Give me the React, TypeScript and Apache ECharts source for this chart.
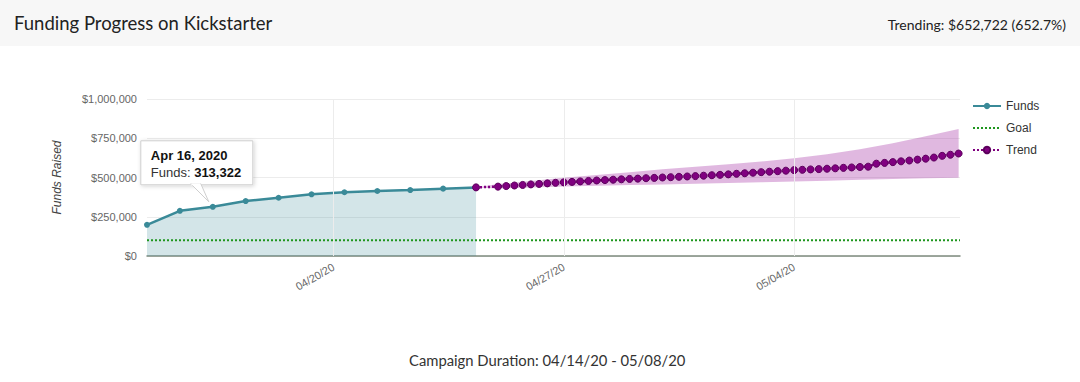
import React, { useEffect, useRef } from 'react';
import * as echarts from 'echarts';

// ---------------- data ----------------
const fundsDates = [
  '2020-04-14 08:00', '2020-04-15 08:00', '2020-04-16 08:00', '2020-04-17 08:00',
  '2020-04-18 08:00', '2020-04-19 08:00', '2020-04-20 08:00', '2020-04-21 08:00',
  '2020-04-22 08:00', '2020-04-23 08:00', '2020-04-24 08:00',
];
const fundsValues = [198500, 288000, 313322, 350000, 371000, 393000, 406000, 414000, 420000, 429000, 437000];

const goalValue = 100000;

// trend: one estimate every 6 hours starting 04/25 00:00
const trendStart = '2020-04-25 00:00';
const trendStepHours = 6;
const trendValues = [
  442000, 445500, 449000, 452500,
  456000, 459000, 462500, 466000,
  469000, 472000, 475000, 478000,
  481000, 483500, 486000, 488500,
  491000, 493000, 495500, 497500,
  500000, 502000, 504500, 506500,
  509000, 511500, 514500, 517000,
  520000, 523500, 527000, 530500,
  534000, 537000, 540500, 543500,
  547000, 549000, 551500, 553500,
  556000, 558500, 561500, 564000,
  567000, 569000, 588000, 593000,
  598000, 603000, 608000, 614000,
  620000, 627000, 638000, 645000,
  652722,
];

const bandDates = [
  '2020-04-24 08:00', '2020-04-25 00:00', '2020-04-26 00:00', '2020-04-27 00:00',
  '2020-04-28 00:00', '2020-04-29 00:00', '2020-04-30 00:00', '2020-05-01 00:00',
  '2020-05-02 00:00', '2020-05-03 00:00', '2020-05-04 00:00', '2020-05-05 00:00',
  '2020-05-06 00:00', '2020-05-07 00:00', '2020-05-08 00:00', '2020-05-09 00:00',
];
const bandUpper = [437000, 458000, 478000, 498000, 516000, 534000, 552000, 568000, 584000, 602000, 622000, 648000, 680000, 718000, 762000, 809000];
const bandLower = [437000, 430000, 436000, 442000, 447000, 452000, 456000, 460000, 465000, 470000, 474000, 479000, 485000, 490000, 495000, 499000];

const axisBase = '2020-04-13 00:00';
const axisStart = '2020-04-14 08:00';
const axisEnd = '2020-05-09 01:00';
const xTickDates = ['2020-04-20 00:00', '2020-04-27 00:00', '2020-05-04 00:00'];
const yTicks = [0, 250000, 500000, 750000, 1000000];

const titleText = 'Funding Progress on Kickstarter';
const trendingText = 'Trending: $652,722 (652.7%)';
const durationText = 'Campaign Duration: 04/14/20 - 05/08/20';
const tooltipIndex = 2;

// ---------------- helpers ----------------
const parse = (s: string) => new Date(s.replace(' ', 'T') + ':00').getTime();
const baseMs = parse(axisBase);
const toH = (s: string) => (parse(s) - baseMs) / 3600000;
const pad = (n: number) => (n < 10 ? '0' + n : '' + n);
const fmtShort = (h: number) => {
  const d = new Date(baseMs + h * 3600000);
  return `${pad(d.getMonth() + 1)}/${pad(d.getDate())}/${pad(d.getFullYear() % 100)}`;
};
const MONTHS = ['Jan', 'Feb', 'Mar', 'Apr', 'May', 'Jun', 'Jul', 'Aug', 'Sep', 'Oct', 'Nov', 'Dec'];
const fmtLong = (s: string) => {
  const d = new Date(parse(s));
  return `${MONTHS[d.getMonth()]} ${d.getDate()}, ${d.getFullYear()}`;
};
const fmtMoney = (v: number) => '$' + v.toLocaleString('en-US');

const SANS = '"Liberation Sans", Arial, sans-serif';
const HEAD = 'Lato, "Noto Sans", sans-serif';
const BAND_FILL = 'rgba(160, 40, 160, 0.33)';
const GRID_COLOR = '#ececec';

export default function App() {
  const ref = useRef<HTMLDivElement>(null);
  useEffect(() => {
    document.body.style.margin = '0';
    if (!ref.current) return;
    const chart = echarts.init(ref.current, undefined, { renderer: 'svg' });

    const fundsData = fundsDates.map((d, i) => [toH(d), fundsValues[i]]);
    const trendStartH = toH(trendStart);
    const trendData = [[toH(fundsDates[fundsDates.length - 1]), fundsValues[fundsValues.length - 1]]].concat(
      trendValues.map((v, i) => [trendStartH + i * trendStepHours, v])
    );
    const bandData = bandDates.map((d, i) => [toH(d), bandLower[i], bandUpper[i]]);
    const xMin = toH(axisStart);
    const xMax = toH(axisEnd);
    const tickH = xTickDates.map(toH);

    chart.setOption({
      animation: false,
      title: [
        { text: titleText, left: 9, top: 8, textStyle: { fontFamily: HEAD, fontSize: 18.5, fontWeight: 'normal', color: '#222' } },
        { text: trendingText, right: 9, top: 12, textStyle: { fontFamily: HEAD, fontSize: 14, fontWeight: 'normal', color: '#222' } },
        { text: durationText, left: 404, top: 347, textStyle: { fontFamily: HEAD, fontSize: 14.8, fontWeight: 'normal', color: '#333' } },
      ],
      grid: { left: 147, right: 120, top: 99, bottom: 126 },
      legend: {
        data: [
          { name: 'Funds' },
          { name: 'Goal', itemStyle: { color: 'rgba(0,0,0,0)', borderColor: 'rgba(0,0,0,0)', borderWidth: 0 } },
          { name: 'Trend' },
        ],
        orient: 'vertical',
        left: 967,
        top: 95,
        itemWidth: 28,
        itemHeight: 8,
        itemGap: 10,
        textStyle: { fontFamily: SANS, fontSize: 12, color: '#333' },
      },
      xAxis: {
        type: 'value',
        min: xMin,
        max: xMax,
        axisLine: { show: true, lineStyle: { color: '#7d8a7d', width: 1.5 } },
        axisTick: { show: false, customValues: tickH },
        axisLabel: {
          customValues: tickH,
          rotate: 30,
          margin: 10,
          fontFamily: SANS,
          fontSize: 11,
          color: '#666',
          formatter: (v: number) => fmtShort(v),
        },
        splitLine: { show: false },
      },
      yAxis: {
        type: 'value',
        min: yTicks[0],
        max: yTicks[yTicks.length - 1],
        interval: yTicks[1] - yTicks[0],
        name: 'Funds Raised',
        nameLocation: 'middle',
        nameGap: 84,
        nameTextStyle: { fontFamily: SANS, fontSize: 12, fontStyle: 'italic', color: '#444' },
        axisLine: { show: false },
        axisTick: { show: false },
        axisLabel: { fontFamily: SANS, fontSize: 11, color: '#666', margin: 10, formatter: (v: number) => fmtMoney(v) },
        splitLine: { lineStyle: { color: GRID_COLOR } },
      },
      series: [
        {
          name: 'xGrid',
          type: 'line',
          data: [],
          z: 0,
          silent: true,
          markLine: {
            silent: true,
            symbol: ['none', 'none'],
            label: { show: false },
            lineStyle: { color: GRID_COLOR, type: 'solid', width: 1 },
            data: tickH.map((h) => ({ xAxis: h })),
          },
        },
        {
          name: 'Trend range',
          type: 'custom',
          data: bandData,
          encode: { x: 0, y: [1, 2] },
          silent: true,
          z: 1,
          renderItem: (params: any, api: any) => {
            if (params.dataIndex !== 0) return null;
            const upper = bandData.map((r) => api.coord([r[0], r[2]]));
            const lower = bandData.map((r) => api.coord([r[0], r[1]])).reverse();
            return {
              type: 'polygon',
              shape: { points: upper.concat(lower) },
              style: { fill: BAND_FILL },
            };
          },
        },
        {
          name: 'Funds',
          type: 'line',
          data: fundsData,
          symbol: 'circle',
          symbolSize: 6,
          itemStyle: { color: '#3a8a98' },
          lineStyle: { color: '#3a8a98', width: 2.5 },
          areaStyle: { color: 'rgba(58, 138, 152, 0.32)' },
          z: 2,
        },
        {
          name: 'Goal',
          type: 'line',
          data: [[xMin, goalValue], [xMax, goalValue]],
          symbol: 'none',
          itemStyle: { color: '#1e961e' },
          lineStyle: { color: '#1e961e', width: 2, type: [2, 2] },
          z: 3,
        },
        {
          name: 'Trend',
          type: 'line',
          data: trendData,
          symbol: 'circle',
          symbolSize: 7,
          itemStyle: { color: '#800080', borderColor: '#5c005c', borderWidth: 1 },
          lineStyle: { color: '#800080', width: 2.5, type: [2, 2] },
          z: 4,
        },
      ],
      graphic: [
        { id: 'header', type: 'rect', shape: { x: 0, y: 0, width: 1080, height: 46 }, style: { fill: '#f7f7f7' }, z: -10, silent: true },
      ],
    });

    // tooltip-like callout anchored on the third funds point
    const p = chart.convertToPixel({ gridIndex: 0 }, [toH(fundsDates[tooltipIndex]), fundsValues[tooltipIndex]]) as number[];
    const px = p[0];
    const py = p[1];
    chart.setOption({
      graphic: [
        { id: 'header', type: 'rect', shape: { x: 0, y: 0, width: 1080, height: 46 }, style: { fill: '#f7f7f7' }, z: -10, silent: true },
        {
          id: 'tipbox',
          type: 'rect',
          z: 100,
          shape: { x: px - 72, y: py - 66, width: 112, height: 44 },
          style: { fill: '#ffffff', stroke: '#cfcfcf', lineWidth: 1, shadowBlur: 4, shadowColor: 'rgba(0,0,0,0.18)', shadowOffsetX: 1, shadowOffsetY: 1 },
        },
        {
          id: 'tiptail',
          type: 'polygon',
          z: 101,
          shape: { points: [[px - 22, py - 23], [px - 12, py - 23], [px - 4, py - 5]] },
          style: { fill: '#ffffff', stroke: '#cfcfcf', lineWidth: 1 },
        },
        {
          id: 'tailcover',
          type: 'line',
          z: 102,
          shape: { x1: px - 21.5, y1: py - 22.5, x2: px - 12.5, y2: py - 22.5 },
          style: { stroke: '#ffffff', lineWidth: 2 },
        },
        {
          id: 'tiptitle',
          type: 'text',
          z: 103,
          x: px - 62,
          y: py - 58,
          style: { text: fmtLong(fundsDates[tooltipIndex]), fontFamily: SANS, fontSize: 13, fontWeight: 'bold', fill: '#111', verticalAlign: 'top' },
        },
        {
          id: 'tipvalue',
          type: 'text',
          z: 103,
          x: px - 62,
          y: py - 41,
          style: {
            text: '{n|Funds: }{v|' + fundsValues[tooltipIndex].toLocaleString('en-US') + '}',
            verticalAlign: 'top',
            rich: {
              n: { fontFamily: SANS, fontSize: 13, fill: '#333' },
              v: { fontFamily: SANS, fontSize: 13, fontWeight: 'bold', fill: '#111' },
            },
          },
        },
      ],
    });

    return () => chart.dispose();
  }, []);
  return <div ref={ref} style={{ width: 1080, height: 382 }} />;
}
